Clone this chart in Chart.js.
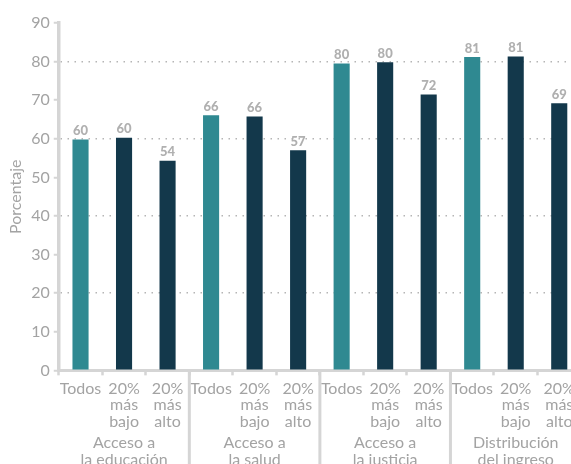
<!DOCTYPE html>
<html>
<head>
<meta charset="utf-8">
<script src="https://cdn.jsdelivr.net/npm/chart.js@4/dist/chart.umd.min.js"></script>
<style>
  html, body { margin: 0; padding: 0; background: #fff; overflow: hidden; }
  #wrap { width: 582px; height: 468px; position: relative; }
</style>
</head>
<body>
<div id="wrap"><canvas id="c"></canvas></div>
<script>
// ---- data ----
const subCategories = [
  ["Todos"], ["20%", "más", "bajo"], ["20%", "más", "alto"],
  ["Todos"], ["20%", "más", "bajo"], ["20%", "más", "alto"],
  ["Todos"], ["20%", "más", "bajo"], ["20%", "más", "alto"],
  ["Todos"], ["20%", "más", "bajo"], ["20%", "más", "alto"]
];
const groups = [
  ["Acceso a", "la educación"],
  ["Acceso a", "la salud"],
  ["Acceso a", "la justicia"],
  ["Distribución", "del ingreso"]
];
const values = [59.8, 60.3, 54.3, 66.1, 65.8, 57.0, 79.5, 79.8, 71.5, 81.2, 81.3, 69.2];
const valueLabels = ["60", "60", "54", "66", "66", "57", "80", "80", "72", "81", "81", "69"];
const yTicks = [0, 10, 20, 30, 40, 50, 60, 70, 80, 90];
const isTodos = [true, false, false, true, false, false, true, false, false, true, false, false];

const TEAL = '#2f8991';
const DARK = '#13384b';
const GRAY_TXT = '#a3a3a3';
const AXIS = '#d5d5d5';
const FONT = 'Lato, "Open Sans", sans-serif';

const valueLabelPlugin = {
  id: 'valueLabels',
  afterDatasetsDraw(chart) {
    const ctx = chart.ctx;
    const meta = chart.getDatasetMeta(0);
    ctx.save();
    ctx.font = '900 13px ' + FONT;
    ctx.fillStyle = '#b0b0b0';
    ctx.textAlign = 'center';
    ctx.textBaseline = 'bottom';
    meta.data.forEach((bar, i) => {
      ctx.fillText(valueLabels[i], bar.x, bar.y - 2);
    });
    ctx.restore();
  }
};

const separatorPlugin = {
  id: 'groupSeparators',
  afterDraw(chart) {
    const ctx = chart.ctx;
    const xs = chart.scales.x;
    const bottom = chart.chartArea.bottom;
    ctx.save();
    ctx.strokeStyle = AXIS;
    ctx.lineWidth = 3;
    [3, 6, 9].forEach(i => {
      const x = (xs.getPixelForValue(i - 1) + xs.getPixelForValue(i)) / 2;
      ctx.beginPath();
      ctx.moveTo(x, bottom);
      ctx.lineTo(x, chart.height);
      ctx.stroke();
    });
    ctx.restore();
  }
};

new Chart(document.getElementById('c'), {
  type: 'bar',
  data: {
    labels: subCategories,
    datasets: [{
      data: values,
      backgroundColor: isTodos.map(t => t ? TEAL : DARK),
      barPercentage: 0.37,
      categoryPercentage: 1.0
    }]
  },
  options: {
    responsive: true,
    maintainAspectRatio: false,
    animation: false,
    layout: { padding: { top: 23, right: 1, left: 6, bottom: 0 } },
    plugins: { legend: { display: false }, tooltip: { enabled: false } },
    scales: {
      x: {
        type: 'category',
        weight: 0,
        offset: true,
        grid: {
          offset: true,
          drawOnChartArea: false,
          drawTicks: true,
          tickLength: 5,
          tickWidth: 2.5,
          tickColor: AXIS,
          tickBorderDash: []
        },
        border: { display: true, color: AXIS, width: 3 },
        ticks: {
          autoSkip: false,
          maxRotation: 0,
          minRotation: 0,
          padding: 5,
          color: GRAY_TXT,
          font: { family: FONT, size: 16, lineHeight: 1.03 }
        }
      },
      x2: {
        type: 'category',
        position: 'bottom',
        weight: 1,
        offset: true,
        labels: groups,
        grid: { display: false, drawTicks: false },
        border: { display: false },
        ticks: {
          autoSkip: false,
          maxRotation: 0,
          minRotation: 0,
          padding: -1,
          color: GRAY_TXT,
          font: { family: FONT, size: 16, lineHeight: 1.1 }
        }
      },
      y: {
        min: 0,
        max: 90,
        afterBuildTicks(scale) { scale.ticks = yTicks.map(v => ({ value: v })); },
        grid: {
          color: c => (c.tick && c.tick.value > 0 && c.tick.value % 20 === 0) ? '#b5b5b5' : 'rgba(0,0,0,0)',
          lineWidth: 1.5,
          drawTicks: true,
          tickLength: 5,
          tickWidth: 2,
          tickColor: AXIS,
          tickBorderDash: []
        },
        border: { display: true, color: AXIS, width: 3.5, dash: [1.5, 5.5] },
        ticks: {
          padding: 4,
          color: GRAY_TXT,
          font: { family: FONT, size: 16 }
        },
        title: {
          display: true,
          text: 'Porcentaje',
          color: GRAY_TXT,
          font: { family: FONT, size: 16 },
          padding: { top: 0, bottom: 2 }
        }
      }
    }
  },
  plugins: [valueLabelPlugin, separatorPlugin]
});
</script>
</body>
</html>
